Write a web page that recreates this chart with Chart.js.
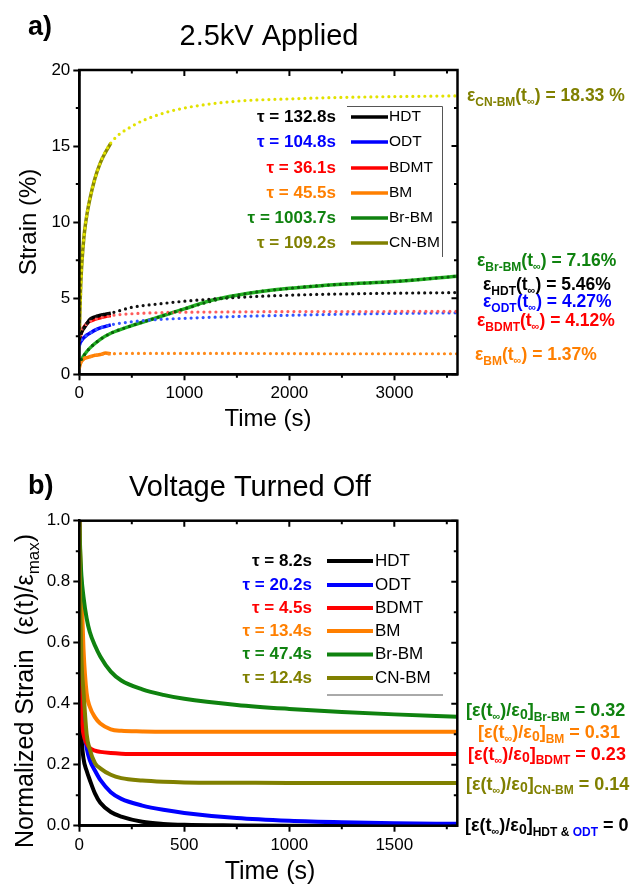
<!DOCTYPE html>
<html>
<head>
<meta charset="utf-8">
<script src="https://cdn.jsdelivr.net/npm/chart.js@4.4.1/dist/chart.umd.min.js"></script>
<style>
  html, body { margin: 0; padding: 0; background: #fff; }
  #wrap { position: relative; width: 632px; height: 891px; overflow: hidden; }
  #wrap canvas { position: absolute; left: 0; }
  #appliedChart { top: 0; }
  #offChart { top: 445px; }
</style>
</head>
<body>
<div id="wrap">
  <canvas id="appliedChart" width="632" height="445"></canvas>
  <canvas id="offChart" width="632" height="446"></canvas>
</div>
<script>
const FONT = '"Liberation Sans", Arial, sans-serif';

const names = ['HDT', 'ODT', 'BDMT', 'BM', 'Br-BM', 'CN-BM'];
const colors = ['#000000', '#0000ff', '#ff0000', '#ff7f00', '#0f820f', '#808000'];

// ---- a) 2.5 kV applied: measured strain (%) ----
const onTime = [0, 5, 10, 20, 35, 50, 75, 100, 150, 200, 250, 300];
const onHDT  = [2.3, 2.45, 2.6, 2.75, 2.95, 3.1, 3.35, 3.6, 3.78, 3.88, 3.95, 4.02];
const onODT  = [1.9, 2.0, 2.1, 2.2, 2.35, 2.45, 2.6, 2.7, 2.9, 3.05, 3.15, 3.25];
const onBDMT = [2.2, 2.4, 2.55, 2.75, 3.0, 3.15, 3.35, 3.48, 3.62, 3.72, 3.8, 3.86];
const onBM   = [0.4, 0.55, 0.7, 0.85, 0.95, 1.05, 1.1, 1.15, 1.25, 1.3, 1.4, 1.35];
const onCNBM = [2.5, 4.0, 5.2, 6.8, 8.3, 9.4, 10.6, 11.5, 12.9, 13.9, 14.6, 15.2];
const brOnTime = [0, 20, 50, 100, 200, 300, 500, 750, 1000, 1250, 1500, 2000, 2500, 3000, 3600];
const onBrBM   = [0.6, 0.94, 1.3, 1.72, 2.3, 2.7, 3.2, 3.75, 4.3, 4.85, 5.2, 5.65, 5.92, 6.1, 6.45];

// fitted curves (dotted)
const fitTime = [0, 25, 50, 100, 200, 300, 500, 750, 1000, 1500, 2000, 2500, 3000, 3600];
const fitHDT  = [2.3, 2.8, 3.1, 3.6, 3.88, 4.02, 4.4, 4.62, 4.8, 5.05, 5.2, 5.28, 5.33, 5.37];
const fitODT  = [1.9, 2.3, 2.45, 2.7, 3.05, 3.25, 3.45, 3.6, 3.68, 3.8, 3.88, 3.95, 4.0, 4.04];
const fitBDMT = [2.2, 2.9, 3.15, 3.48, 3.72, 3.86, 3.98, 4.05, 4.08, 4.1, 4.12, 4.12, 4.13, 4.13];
const fitBM   = [0.4, 0.9, 1.05, 1.15, 1.3, 1.35, 1.37, 1.37, 1.37, 1.37, 1.36, 1.35, 1.35, 1.35];
const fitBrBM = [0.6, 1.05, 1.3, 1.72, 2.3, 2.7, 3.2, 3.75, 4.3, 5.2, 5.65, 5.92, 6.1, 6.45];
const fitCNBM = [2.5, 7.3, 9.4, 11.5, 13.9, 15.2, 16.3, 17.05, 17.5, 17.95, 18.1, 18.2, 18.25, 18.3];

const tauOn = ['132.8', '104.8', '36.1', '45.5', '1003.7', '109.2'];
const strainInf = ['5.46%', '4.27%', '4.12%', '1.37%', '7.16%', '18.33 %'];

const strainTicks = [0, 5, 10, 15, 20];
const strainMinor = [2.5, 7.5, 12.5, 17.5];
const timeTicksOn = [0, 1000, 2000, 3000];
const timeMinorOn = [500, 1500, 2500, 3500];

// ---- b) voltage turned off: normalized strain ----
const offTime = [0, 2, 5, 10, 20, 35, 50, 75, 100, 150, 200, 300, 400, 500, 750, 1000, 1250, 1500, 1800];
const offHDT  = [1.0, 0.62, 0.42, 0.3, 0.22, 0.18, 0.15, 0.105, 0.075, 0.045, 0.03, 0.013, 0.006, 0.003, 0.001, 0, 0, 0, 0];
const offODT  = [1.0, 0.72, 0.52, 0.41, 0.33, 0.255, 0.215, 0.18, 0.15, 0.11, 0.088, 0.066, 0.052, 0.042, 0.025, 0.016, 0.011, 0.008, 0.006];
const offBDMT = [1.0, 0.62, 0.45, 0.36, 0.3, 0.27, 0.255, 0.246, 0.242, 0.238, 0.236, 0.235, 0.235, 0.235, 0.235, 0.235, 0.235, 0.235, 0.235];
const offBM   = [1.0, 0.94, 0.88, 0.78, 0.58, 0.434, 0.39, 0.355, 0.335, 0.316, 0.311, 0.309, 0.308, 0.308, 0.308, 0.308, 0.308, 0.308, 0.308];
const offBrBM = [1.0, 0.95, 0.89, 0.82, 0.75, 0.68, 0.635, 0.59, 0.555, 0.505, 0.476, 0.447, 0.429, 0.416, 0.396, 0.383, 0.373, 0.365, 0.357];
const offCNBM = [1.0, 0.85, 0.7, 0.55, 0.44, 0.3, 0.25, 0.205, 0.188, 0.167, 0.156, 0.148, 0.144, 0.142, 0.141, 0.14, 0.14, 0.14, 0.14];

const tauOff = ['8.2', '20.2', '4.5', '13.4', '47.4', '12.4'];
const ratioInf = ['0', '0', '0.23', '0.31', '0.32', '0.14'];

const normTicks = [0, 0.2, 0.4, 0.6, 0.8, 1.0];
const normMinor = [0.1, 0.3, 0.5, 0.7, 0.9];
const timeTicksOff = [0, 500, 1000, 1500];
const timeMinorOff = [250, 750, 1250, 1750];

function pts(xs, ys) {
  return xs.map((x, i) => ({ x: x, y: ys[i] }));
}
function solid(xs, ys, color, width) {
  return { data: pts(xs, ys), borderColor: color, borderWidth: width, pointRadius: 0,
           cubicInterpolationMode: 'monotone', borderJoinStyle: 'round', order: 1 };
}
function dotted(xs, ys, color) {
  return { data: pts(xs, ys), borderColor: color, borderWidth: 3.2, borderDash: [0, 6],
           borderCapStyle: 'round', pointRadius: 0, cubicInterpolationMode: 'monotone', order: 0 };
}

// text made of pieces; kind 'sub' = lowered small text, 'inf' = small infinity sign
function partSize(kind, size) {
  if (kind === 'sub') return Math.round(size * 0.66);
  if (kind === 'inf') return Math.round(size * 0.6);
  if (kind === 'zero') return Math.round(size * 0.8);
  return size;
}
function richWidth(ctx, parts, size, weight) {
  let w = 0;
  for (const p of parts) {
    ctx.font = weight + ' ' + partSize(p[2], size) + 'px ' + FONT;
    w += ctx.measureText(p[0]).width;
  }
  return w;
}
function drawRich(ctx, x, y, parts, size, weight) {
  ctx.textAlign = 'left';
  ctx.textBaseline = 'alphabetic';
  const base = y + size * 0.36;
  let cx = x;
  for (const p of parts) {
    const fs = partSize(p[2], size);
    const dy = p[2] === 'sub' ? size * 0.24 : p[2] === 'inf' ? size * 0.2 : p[2] === 'zero' ? size * 0.12 : 0;
    ctx.font = weight + ' ' + fs + 'px ' + FONT;
    ctx.fillStyle = p[1];
    ctx.fillText(p[0], cx, base + dy);
    cx += ctx.measureText(p[0]).width;
  }
  return cx - x;
}
function drawText(ctx, text, x, y, size, weight, align, color) {
  ctx.font = weight + ' ' + size + 'px ' + FONT;
  ctx.fillStyle = color || '#000';
  ctx.textAlign = align;
  ctx.textBaseline = 'middle';
  ctx.fillText(text, x, y);
}

// closed box with outward major ticks (drawn by the scales) plus minor and mirrored ticks
function framePlugin(majorX, minorX, majorY, minorY) {
  return {
    id: 'frame',
    afterDraw(chart) {
      const { ctx, chartArea: a, scales: { x, y } } = chart;
      ctx.save();
      ctx.strokeStyle = '#000';
      ctx.lineWidth = 2.5;
      ctx.strokeRect(a.left, a.top, a.right - a.left, a.bottom - a.top);
      ctx.lineWidth = 2;
      ctx.beginPath();
      majorX.forEach(v => {
        const px = x.getPixelForValue(v);
        ctx.moveTo(px, a.top); ctx.lineTo(px, a.top + 6);
      });
      minorX.forEach(v => {
        const px = x.getPixelForValue(v);
        if (px > a.right) return;
        ctx.moveTo(px, a.top); ctx.lineTo(px, a.top + 3.5);
        ctx.moveTo(px, a.bottom); ctx.lineTo(px, a.bottom + 3.5);
      });
      majorY.forEach(v => {
        const py = y.getPixelForValue(v);
        ctx.moveTo(a.right, py); ctx.lineTo(a.right - 6, py);
      });
      minorY.forEach(v => {
        const py = y.getPixelForValue(v);
        ctx.moveTo(a.left, py); ctx.lineTo(a.left - 3.5, py);
        ctx.moveTo(a.right, py); ctx.lineTo(a.right - 3.5, py);
      });
      ctx.stroke();
      ctx.restore();
    }
  };
}

function axisX(ticks, max, height) {
  return {
    type: 'linear', min: 0, max: max,
    afterBuildTicks: s => { s.ticks = ticks.map(v => ({ value: v })); },
    afterFit: s => { s.height = height; },
    grid: { drawOnChartArea: false, tickLength: 6, tickWidth: 2, tickColor: '#000' },
    border: { color: '#000', width: 2.5 },
    ticks: { color: '#000', padding: 3, maxRotation: 0, font: { family: FONT, size: 17 },
             callback: v => String(v) }
  };
}
function axisY(ticks, max, fmt) {
  return {
    type: 'linear', min: 0, max: max,
    afterBuildTicks: s => { s.ticks = ticks.map(v => ({ value: v })); },
    afterFit: s => { s.width = 79.3; },
    grid: { drawOnChartArea: false, tickLength: 6, tickWidth: 2, tickColor: '#000' },
    border: { color: '#000', width: 2.5 },
    ticks: { color: '#000', padding: 3, font: { family: FONT, size: 17 }, callback: fmt }
  };
}

// ---------- chart a ----------
const appliedDecor = {
  id: 'appliedDecor',
  afterDraw(chart) {
    const ctx = chart.ctx;
    ctx.save();
    drawText(ctx, 'a)', 28, 28, 27, 'bold', 'left');
    drawText(ctx, '2.5kV Applied', 269, 37, 29, 'normal', 'center');
    drawText(ctx, 'Time (s)', 268, 419, 24, 'normal', 'center');
    ctx.save();
    ctx.translate(29, 222);
    ctx.rotate(-Math.PI / 2);
    drawText(ctx, 'Strain (%)', 0, 0, 24, 'normal', 'center');
    ctx.restore();

    // legend
    const rowY = [117, 142, 168, 193, 218, 243];
    names.forEach((n, i) => {
      drawText(ctx, 'τ = ' + tauOn[i] + 's', 336, rowY[i], 17, 'bold', 'right', colors[i]);
      ctx.strokeStyle = colors[i];
      ctx.lineWidth = 3.5;
      ctx.beginPath(); ctx.moveTo(351, rowY[i]); ctx.lineTo(388, rowY[i]); ctx.stroke();
      drawText(ctx, n, 389, rowY[i], 15.5, 'normal', 'left', '#000');
    });
    ctx.strokeStyle = '#555';
    ctx.lineWidth = 1;
    ctx.beginPath();
    ctx.moveTo(347, 106.5); ctx.lineTo(442.5, 106.5); ctx.lineTo(442.5, 257);
    ctx.stroke();

    // saturation strains
    const notes = [
      [5, 467, 95], [4, 477, 260], [0, 483, 284], [1, 483, 301], [2, 477, 320], [3, 475, 354]
    ];
    notes.forEach(([i, x, y]) => {
      const c = colors[i];
      drawRich(ctx, x, y, [['ε', c], [names[i], c, 'sub'], ['(t', c], ['∞', c, 'inf'], [') = ' + strainInf[i], c]], 17.5, 'bold');
    });
    ctx.restore();
  }
};

new Chart(document.getElementById('appliedChart'), {
  type: 'line',
  data: {
    datasets: [
      dotted(fitTime, fitCNBM, '#e2e200'),
      dotted(fitTime, fitBrBM, '#0a5f0a'),
      dotted(fitTime, fitHDT, '#111111'),
      dotted(fitTime, fitBDMT, '#ff5c5c'),
      dotted(fitTime, fitODT, '#3355ff'),
      dotted(fitTime, fitBM, '#ff8a1a'),
      solid(onTime, onHDT, '#000000', 3.5),
      solid(onTime, onBDMT, '#ff0000', 3.5),
      solid(onTime, onODT, '#0000ff', 3.5),
      solid(onTime, onBM, '#ff7f00', 3.5),
      solid(onTime, onCNBM, '#8a8a00', 3.5),
      solid(brOnTime, onBrBM, '#22b022', 3.5)
    ]
  },
  options: {
    responsive: false,
    animation: false,
    layout: { padding: { left: 0, top: 70, right: 632 - 457.5, bottom: 0 } },
    plugins: { legend: { display: false }, tooltip: { enabled: false } },
    scales: {
      x: axisX(timeTicksOn, 3600, 445 - 374.3),
      y: axisY(strainTicks, 20, v => String(v))
    }
  },
  plugins: [framePlugin(timeTicksOn, timeMinorOn, strainTicks, strainMinor), appliedDecor]
});

// ---------- chart b ----------
const offDecor = {
  id: 'offDecor',
  afterDraw(chart) {
    const ctx = chart.ctx;
    ctx.save();
    drawText(ctx, 'b)', 28, 42, 27, 'bold', 'left');
    drawText(ctx, 'Voltage Turned Off', 250, 43, 29, 'normal', 'center');
    drawText(ctx, 'Time (s)', 270, 427, 25, 'normal', 'center');

    // rotated y title
    const tParts = [['Normalized Strain  (ε(t)/ε', '#000'], ['max', '#000', 'sub'], [')', '#000']];
    const w = richWidth(ctx, tParts, 25, 'normal');
    ctx.save();
    ctx.translate(24, 246);
    ctx.rotate(-Math.PI / 2);
    drawRich(ctx, -w / 2, 0, tParts, 25, 'normal');
    ctx.restore();

    // legend
    const rowY = [116, 140, 163, 186, 209.5, 233];
    names.forEach((n, i) => {
      drawText(ctx, 'τ = ' + tauOff[i] + 's', 312, rowY[i], 17, 'bold', 'right', colors[i]);
      ctx.strokeStyle = colors[i];
      ctx.lineWidth = 4;
      ctx.beginPath(); ctx.moveTo(327, rowY[i]); ctx.lineTo(373, rowY[i]); ctx.stroke();
      drawText(ctx, n, 375, rowY[i], 17, 'normal', 'left', '#000');
    });
    ctx.strokeStyle = '#555';
    ctx.lineWidth = 1;
    ctx.beginPath(); ctx.moveTo(327, 250); ctx.lineTo(443, 250); ctx.stroke();

    // long-time recovery ratios
    const notes = [[4, 466, 265], [3, 478, 287], [2, 468, 308.5], [5, 466, 338.5]];
    notes.forEach(([i, x, y]) => {
      const c = colors[i];
      drawRich(ctx, x, y, [['[ε(t', c], ['∞', c, 'inf'], [')/ε', c], ['0', c, 'zero'], [']', c],
        [names[i], c, 'sub'], [' = ' + ratioInf[i], c]], 18, 'bold');
    });
    drawRich(ctx, 465, 380, [['[ε(t', '#000'], ['∞', '#000', 'inf'], [')/ε', '#000'], ['0', '#000', 'zero'], [']', '#000'],
      ['HDT & ', '#000', 'sub'], ['ODT', '#0000ff', 'sub'], [' = ' + ratioInf[0], '#000']], 18, 'bold');
    ctx.restore();
  }
};

new Chart(document.getElementById('offChart'), {
  type: 'line',
  data: {
    datasets: [
      solid(offTime, offCNBM, colors[5], 4),
      solid(offTime, offBrBM, colors[4], 4),
      solid(offTime, offBM, colors[3], 4),
      solid(offTime, offBDMT, colors[2], 4),
      solid(offTime, offODT, colors[1], 4),
      solid(offTime, offHDT, colors[0], 4)
    ]
  },
  options: {
    responsive: false,
    animation: false,
    layout: { padding: { left: 0, top: 75.7, right: 632 - 457.3, bottom: 0 } },
    plugins: { legend: { display: false }, tooltip: { enabled: false } },
    scales: {
      x: axisX(timeTicksOff, 1800, 446 - 380.7),
      y: axisY(normTicks, 1.0, v => v.toFixed(1))
    }
  },
  plugins: [framePlugin(timeTicksOff, timeMinorOff, normTicks, normMinor), offDecor]
});
</script>
</body>
</html>
